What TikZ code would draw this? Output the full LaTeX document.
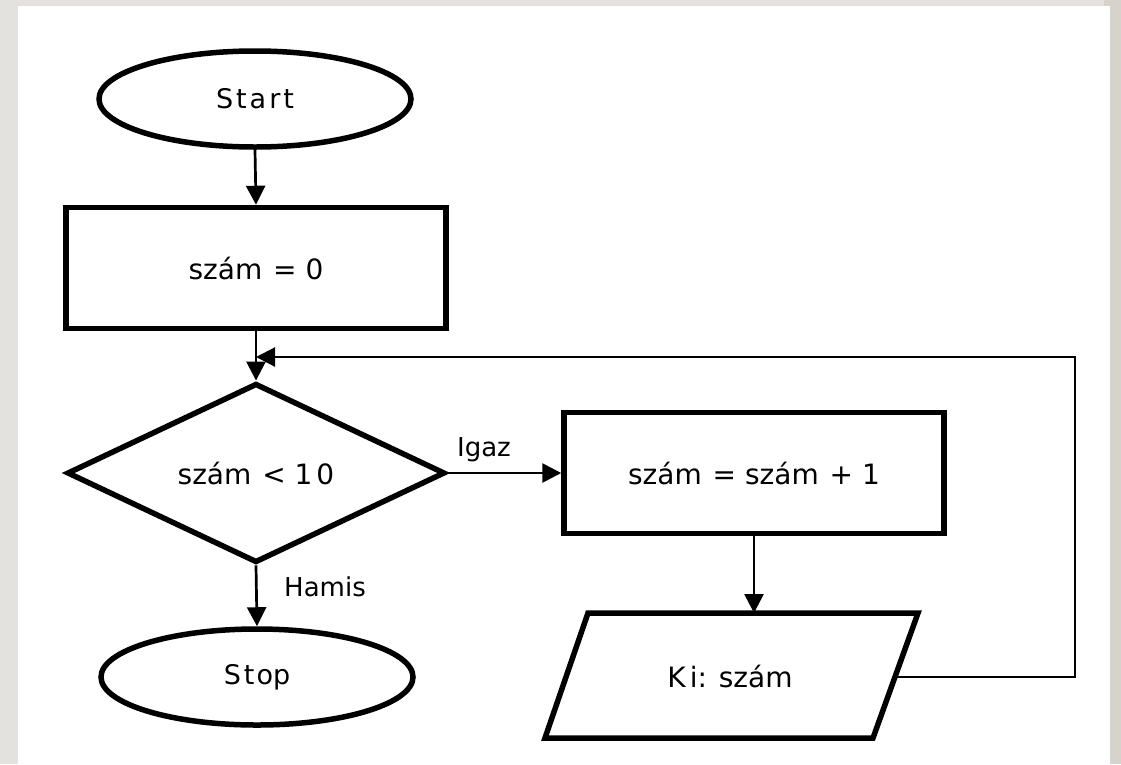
\documentclass[tikz,border=0pt]{standalone}
\usepackage{fontspec}
\setmainfont{DejaVu Sans}
\usetikzlibrary{shapes.geometric,arrows.meta}
\begin{document}
\begin{tikzpicture}[x=1pt,y=-1pt,
  term/.style={ellipse,draw,line width=5.5pt,minimum width=312pt,minimum height=96pt,inner sep=0pt,font=\fontsize{27}{32}\selectfont},
  proc/.style={rectangle,draw,line width=5.5pt,minimum width=380pt,minimum height=121pt,inner sep=0pt,font=\fontsize{28}{32}\selectfont},
  dec/.style={diamond,draw,line width=5.5pt,minimum width=378pt,minimum height=174pt,inner sep=0pt,font=\fontsize{28}{32}\selectfont},
  io/.style={draw,line width=5.5pt,line join=miter},
  txt/.style={font=\fontsize{28}{32}\selectfont},
  conn/.style={line width=2.7pt,-{Triangle[length=19pt,width=19pt]}},
  loopline/.style={line width=2.2pt},
  lbl/.style={font=\fontsize{26}{30}\selectfont,inner sep=0pt}]
% background and margins
\fill[color={rgb,255:red,228;green,226;blue,222}] (0,0) rectangle (1121,764);
\fill[color={rgb,255:red,214;green,210;blue,204}] (1104,0) rectangle (1121,764);
\fill[white] (18,6) rectangle (1110,764);
\useasboundingbox (0,0) rectangle (1121,764);
% nodes
\node[term] (start) at (255,99) {S\kern3pt t\kern3pt a\kern3pt r\kern3pt t};
\node[proc] (init) at (256,268) {szám \kern2pt= 0};
\node[dec] (cond) at (256,473) {szám \kern2pt< 1\kern4pt 0};
\node[proc] (inc) at (754,473) {szám \kern2pt= szám \kern2pt+ 1};
\node[term] (stop) at (257,677) {S\kern3pt t\kern2pt op};
% parallelogram
\coordinate (pTL) at (588,613);
\coordinate (pTR) at (918,613);
\coordinate (pBR) at (873,738);
\coordinate (pBL) at (545,738);
\draw[io] (pTL) -- (pTR) -- (pBR) -- (pBL) -- cycle;
\node[txt] (out) at (730,676) {K\kern4pt i: szám};
\coordinate (pTop) at (754,613);
\coordinate (pR) at (895,677);
% loop corners
\coordinate (c1) at (1075,677);
\coordinate (c2) at (1075,357);
\coordinate (merge) at (256,357);
% connectors
\draw[conn] (start.south) -- (init.north);
\draw[line width=2.7pt] (init.south) -- (merge);
\draw[conn] (merge) -- (cond.north);
\draw[conn] (cond.east) -- (inc.west);
\draw[conn] (cond.south) -- (stop.north);
\draw[conn] (inc.south) -- (pTop);
\draw[loopline,-{Triangle[length=19pt,width=19pt]}] (pR) -- (c1) -- (c2) -- (merge);
% labels
\node[lbl] (igaz) at (484,450) {Igaz};
\node[lbl] (hamis) at (325,587) {Hamis};
\end{tikzpicture}
\end{document}
